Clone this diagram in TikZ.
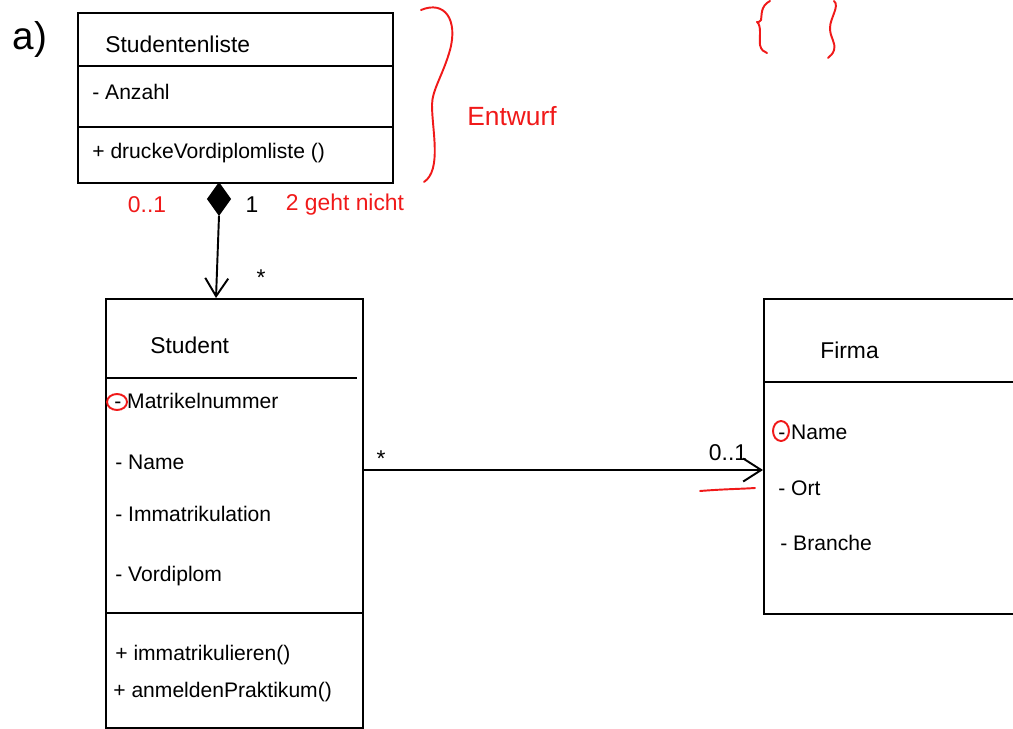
\documentclass[tikz,border=0pt]{standalone}
\usepackage{fontspec}
\setmainfont{Liberation Sans}
\usetikzlibrary{arrows.meta,shapes.geometric}
\definecolor{pen}{RGB}{240,25,25}

\begin{document}
\begin{tikzpicture}[x=0.02cm,y=-0.02cm,
  classbox/.style={draw, line width=1.1pt, inner sep=0pt, anchor=north west},
  divider/.style={line width=1.1pt},
  title/.style={anchor=west, inner sep=0pt, font=\fontsize{13}{15}\selectfont},
  member/.style={anchor=west, inner sep=0pt, font=\fontsize{12}{14}\selectfont},
  mult/.style={inner sep=0pt, font=\fontsize{13}{15}\selectfont},
  note/.style={inner sep=0pt, text=pen, font=\fontsize{13}{15}\selectfont},
  redink/.style={draw=pen, line width=1.1pt, line cap=round, line join=round},
  link/.style={line width=1.1pt, -{Straight Barb[length=3.6mm,width=4.6mm,line width=1.1pt]}}]

\useasboundingbox (0,0) rectangle (1013,729);

% label of the subtask
\node[inner sep=0pt, font=\fontsize{22}{24}\selectfont] (lab) at (30,40) {a)};

% class Studentenliste
\node[classbox, minimum width=6.3cm, minimum height=3.4cm] (sl) at (77,12) {};
\draw[divider] (sl.west |- 0,66) -- (sl.east |- 0,66);
\draw[divider] (sl.west |- 0,127) -- (sl.east |- 0,127);
\node[title]  (slname) at (105,44) {Studentenliste};
\node[member] (slanz)  at (92,92)  {- Anzahl};
\node[member] (slop)   at (92,153) {+ druckeVordiplomliste ()};

% class Student
\node[classbox, minimum width=5.14cm, minimum height=8.58cm] (st) at (105,298) {};
\draw[divider] (st.west |- 0,378) -- (357,378);
\draw[divider] (st.west |- 0,613) -- (st.east |- 0,613);
\node[title]  (stname) at (150,345) {Student};
\node[member] (stmat)  at (114,401) {- Matrikelnummer};
\node[member] (stnam)  at (115,462) {- Name};
\node[member] (stimm)  at (115,514) {- Immatrikulation};
\node[member] (stvor)  at (115,576) {- Vordiplom};
\node[member] (stop1)  at (115,655) {+ immatrikulieren()};
\node[member] (stop2)  at (113,692) {+ anmeldenPraktikum()};

% class Firma (runs past the right edge)
\node[classbox, minimum width=5.4cm, minimum height=6.3cm] (fi) at (763,298) {};
\draw[divider] (fi.west |- 0,382) -- (1013,382);
\node[title]  (finame) at (820,350) {Firma};
\node[member] (finam)  at (778,432) {- Name};
\node[member] (fiort)  at (778,488) {- Ort};
\node[member] (fibra)  at (780,543) {- Branche};

% composition Studentenliste -> Student
\node[diamond, fill=black, draw=black, line width=0.8pt, inner sep=0pt,
      minimum width=0.46cm, minimum height=0.64cm] (dia) at (219,199) {};
\coordinate (stin) at (216,298);
\draw[link] (dia.south) -- (stin);
\node[note] (m01a) at (147,205) {0..1};
\node[mult] (m1)   at (252,205) {1};
\node[note] (m2)   at (345,205) {2 geht nicht};
\node[mult] (mst)  at (261,278) {*};

% association Student -> Firma
\coordinate (stout) at (st.east |- 0,470);
\coordinate (fiin)  at (fi.west |- 0,470);
\draw[link] (stout) -- (fiin);
\node[mult] (mst2) at (381,459) {*};
\node[mult] (m01b) at (728,453) {0..1};
\draw[redink] (700,491) .. controls (725,489) and (740,489) .. (755,488);

% red corrections on the visibility marks
\draw[redink] (117,402) ellipse (10 and 8);
\draw[redink] (781,431) ellipse (8 and 10);

% brace marking the class as design
\draw[redink] (421,10) .. controls (445,0) and (458,20) .. (450,50)
  .. controls (443,75) and (432,90) .. (432,105)
  .. controls (432,130) and (442,170) .. (424,182);
\node[note, anchor=west, font=\fontsize{15}{17}\selectfont] (entw) at (467,116) {Entwurf};

% empty set braces
\draw[redink] (770,1) .. controls (760,6) and (762,16) .. (761,20)
  .. controls (760,23) and (757,22) .. (757,22)
  .. controls (762,26) and (759,38) .. (760,45)
  .. controls (761,50) and (764,52) .. (767,53);
\draw[redink] (834,1) .. controls (840,6) and (830,18) .. (830,28)
  .. controls (830,38) and (836,42) .. (834,50)
  .. controls (833,54) and (830,56) .. (828,58);
\end{tikzpicture}
\end{document}
